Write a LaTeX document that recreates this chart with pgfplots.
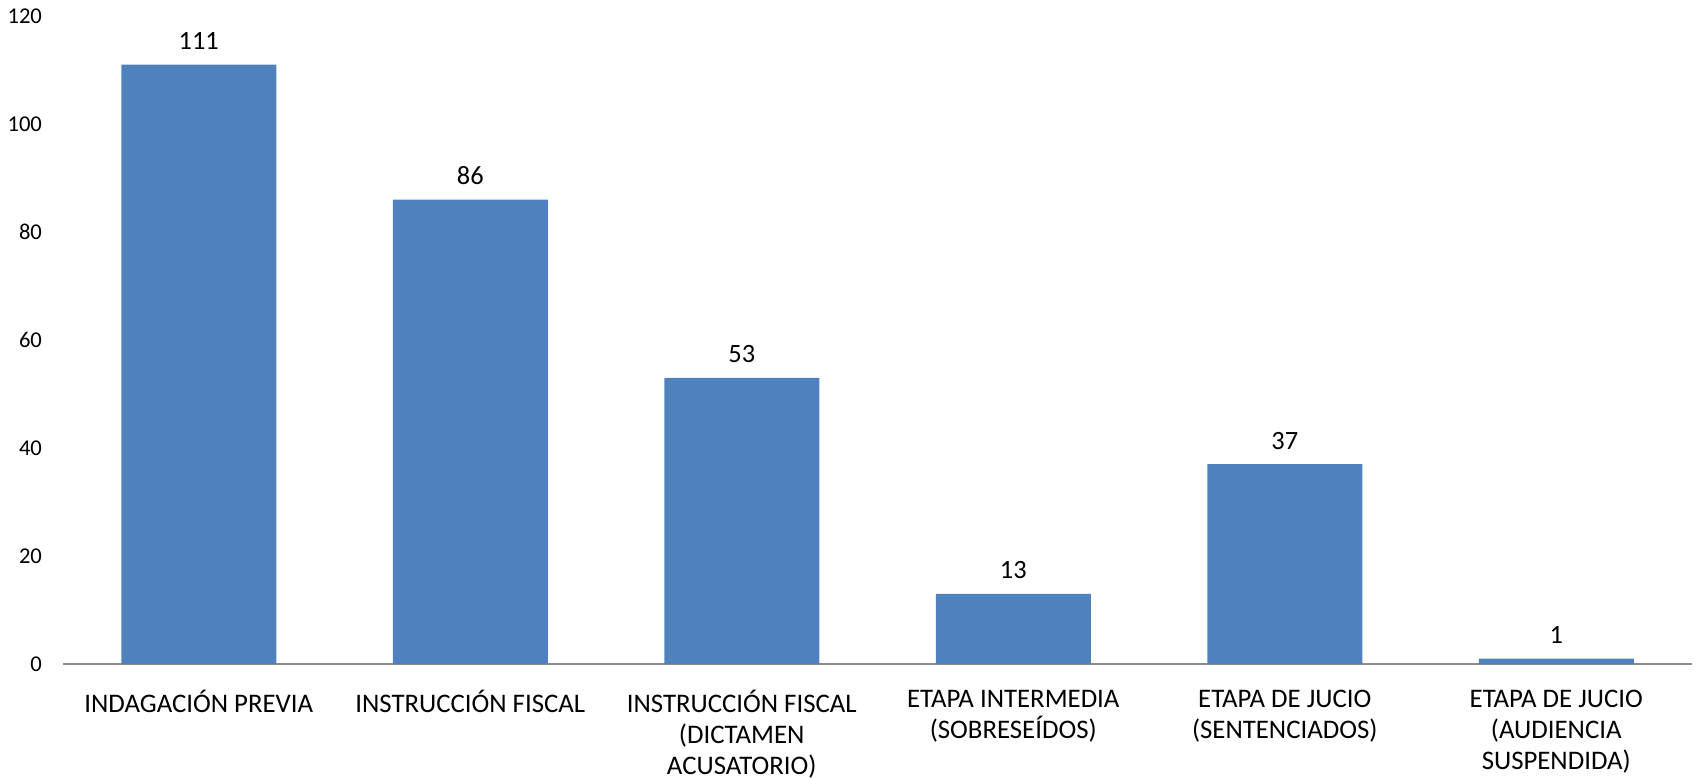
\documentclass[border=0pt]{standalone}
\usepackage{pgfplots}
\pgfplotsset{compat=1.18}
\usepackage{fontspec}
\setmainfont{Carlito}
\definecolor{barblue}{HTML}{4F81BD}
\begin{document}
\begin{tikzpicture}
\useasboundingbox (-31.5pt,-57pt) rectangle (816.5pt,332pt);
\begin{axis}[
  at={(0,0)}, anchor=south west,
  width=814.5pt, height=324pt, scale only axis,
  xmin=-0.5, xmax=5.5, ymin=0, ymax=120,
  ytick={0,20,...,120},
  xtick={0,1,2,3,4,5},
  xticklabels={
    {INDAGACIÓN PREVIA},
    {INSTRUCCIÓN FISCAL},
    {INSTRUCCIÓN FISCAL\\(DICTAMEN\\ACUSATORIO)},
    {ETAPA INTERMEDIA\\(SOBRESEÍDOS)},
    {ETAPA DE JUCIO\\(SENTENCIADOS)},
    {ETAPA DE JUCIO\\(AUDIENCIA\\SUSPENDIDA)}},
  separate axis lines,
  axis x line*=bottom, axis y line*=left,
  x axis line style={draw=black!45, line width=0.8pt, -},
  y axis line style={draw=none},
  major tick length=0pt,
  tick style={draw=none},
  xticklabel style={align=center, anchor=north, yshift=-9.5pt,
    font=\fontsize{13.4}{15.5}\selectfont},
  yticklabel style={anchor=east, xshift=-7pt,
    font=\fontsize{11.3}{13}\selectfont},
  /pgf/number format/assume math mode=true,
  clip=false,
  nodes near coords,
  nodes near coords style={anchor=base, yshift=7.5pt,
    font=\fontsize{13.2}{16}\selectfont, text=black},
]
\addplot[ybar, bar width=77.5pt, fill=barblue, draw=none]
  coordinates {(0,111) (1,86) (2,53) (3,13) (4,37) (5,1)};
\end{axis}
\end{tikzpicture}
\end{document}
